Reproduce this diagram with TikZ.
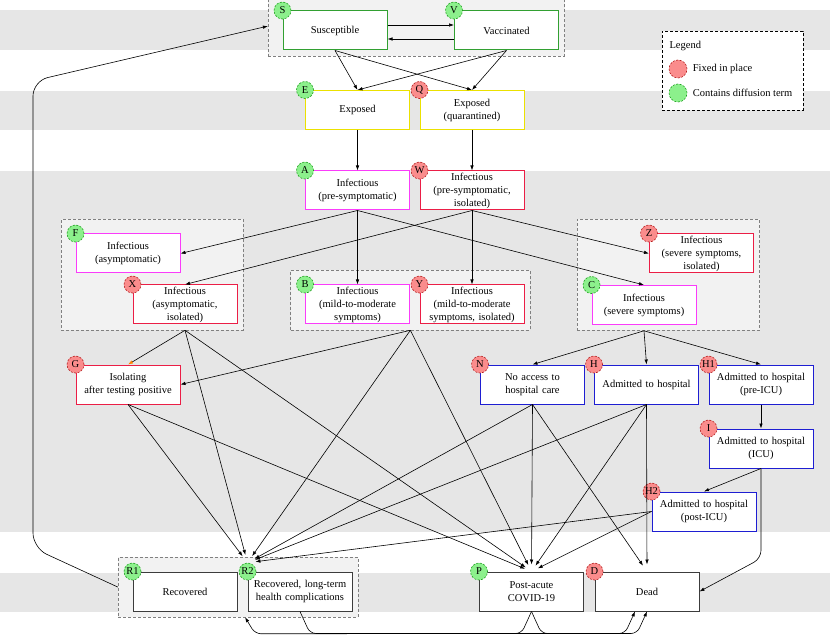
\documentclass[tikz,border=0pt]{standalone}
\usepackage{fontspec}
\setmainfont{Liberation Serif}
\definecolor{bandgray}{RGB}{230,230,230}
\definecolor{groupgray}{RGB}{242,242,242}
\definecolor{susgreen}{RGB}{50,160,50}
\definecolor{expyellow}{RGB}{235,225,0}
\definecolor{infmagenta}{RGB}{250,60,250}
\definecolor{isored}{RGB}{235,30,70}
\definecolor{hospblue}{RGB}{30,30,210}
\definecolor{outgray}{RGB}{60,60,60}
\definecolor{fixedfill}{RGB}{250,140,140}
\definecolor{fixedline}{RGB}{180,30,30}
\definecolor{difffill}{RGB}{140,240,140}
\definecolor{diffline}{RGB}{30,160,30}
\usetikzlibrary{shapes,arrows.meta,positioning,fit,backgrounds,calc}
\tikzstyle{stage} = [rectangle, draw, fill=white, line width=1pt,
    text width=100pt, inner xsep=2pt, inner ysep=1pt, align=center, minimum height=39pt]
\tikzstyle{fixed} = [circle, draw=fixedline, fill=fixedfill, line width=0.6pt, dash pattern=on 2pt off 1.5pt,
    minimum size=17pt, inner sep=0pt]
\tikzstyle{diffusing} = [circle, draw=diffline, fill=difffill, line width=0.6pt, dash pattern=on 2pt off 1.5pt,
    minimum size=17pt, inner sep=0pt]
\tikzstyle{group} = [draw=gray, line width=0.6pt, dash pattern=on 3pt off 2pt, fill=groupgray, inner sep=5.5pt]
\tikzstyle{line} = [draw, line width=0.6pt, -{Latex[length=5pt,width=3.5pt]}]

\begin{document}
\begin{tikzpicture}[x=1pt, y=1pt, font=\fontsize{10.5}{13}\selectfont]
  \useasboundingbox (0,0) rectangle (830,-636);
  \node [stage, draw=susgreen] (susceptible) at (335,-30.5) {Susceptible};
  \node [stage, draw=susgreen, right of=susceptible, node distance=171.5pt] (vaccinated) {Vaccinated};
  \node [stage, draw=expyellow] (exposed) at (357.5,-110) {Exposed};
  \node [stage, draw=expyellow, right of=exposed, node distance=114.5pt] (exposed_q) {Exposed\\(quarantined)};
  \node [stage, draw=infmagenta, below of=exposed, node distance=80.5pt] (presymp) {Infectious\\(pre-symptomatic)};
  \node [stage, draw=isored, right of=presymp, node distance=114.5pt] (presymp_iso) {Infectious\\(pre-symptomatic,\\isolated)};
  \node [stage, draw=infmagenta, below of=presymp, node distance=114pt] (mild) {Infectious\\(mild-to-moderate\\symptoms)};
  \node [stage, draw=isored, right of=mild, node distance=114.5pt] (mild_iso) {Infectious\\(mild-to-moderate\\symptoms, isolated)};
  \node [stage, draw=infmagenta] (asymp) at (128,-253.5) {Infectious\\(asymptomatic)};
  \node [stage, draw=isored] (asymp_iso) at (185,-304.5) {Infectious\\(asymptomatic,\\isolated)};
  \node [stage, draw=isored, below of=asymp, node distance=131pt] (isolating) {Isolating\\after testing positive};
  \node [stage, draw=isored] (severe_iso) at (701.5,-253.5) {Infectious\\(severe symptoms,\\isolated)};
  \node [stage, draw=infmagenta] (severe) at (644,-305) {Infectious\\(severe symptoms)};
  \node [stage, draw=hospblue] (hospital) at (646.5,-384.5) {Admitted to hospital};
  \node [stage, draw=hospblue, left of=hospital, node distance=114pt] (no_access) {No access to\\hospital care};
  \node [stage, draw=hospblue, right of=hospital, node distance=114.5pt] (pre_icu) {Admitted to hospital\\(pre-ICU)};
  \node [stage, draw=hospblue, below of=pre_icu, node distance=64pt] (icu) {Admitted to hospital\\(ICU)};
  \node [stage, draw=hospblue] (post_icu) at (704,-511.5) {Admitted to hospital\\(post-ICU)};
  \node [stage, draw=outgray] (recovered) at (185,-591.5) {Recovered};
  \node [stage, draw=outgray, right of=recovered, node distance=115pt] (long_term) {Recovered, long-term\\health complications};
  \node [stage, draw=outgray] (post_acute) at (531.5,-591.5) {Post-acute\\COVID-19};
  \node [stage, draw=outgray, right of=post_acute, node distance=115.5pt] (dead) {Dead};

  \node [diffusing] (S_b) at (susceptible.north west) {S};
  \node [diffusing] (V_b) at (vaccinated.north west) {V};
  \node [diffusing] (E_b) at (exposed.north west) {E};
  \node [fixed] (Q_b) at (exposed_q.north west) {Q};
  \node [diffusing] (A_b) at (presymp.north west) {A};
  \node [fixed] (W_b) at (presymp_iso.north west) {W};
  \node [diffusing] (F_b) at (asymp.north west) {F};
  \node [fixed] (X_b) at (asymp_iso.north west) {X};
  \node [diffusing] (B_b) at (mild.north west) {B};
  \node [fixed] (Y_b) at (mild_iso.north west) {Y};
  \node [fixed] (Z_b) at (severe_iso.north west) {Z};
  \node [diffusing] (C_b) at (severe.north west) {C};
  \node [fixed] (G_b) at (isolating.north west) {G};
  \node [fixed] (N_b) at (no_access.north west) {N};
  \node [fixed] (H_b) at (hospital.north west) {H};
  \node [fixed] (H1_b) at (pre_icu.north west) {H1};
  \node [fixed] (I_b) at (icu.north west) {I};
  \node [fixed] (H2_b) at (post_icu.north west) {H2};
  \node [diffusing] (R1_b) at (recovered.north west) {R1};
  \node [diffusing] (R2_b) at (long_term.north west) {R2};
  \node [diffusing] (P_b) at (post_acute.north west) {P};
  \node [fixed] (D_b) at (dead.north west) {D};

  \begin{scope}[on background layer]
    \fill [bandgray] (0,-10) rectangle (830,-50);
    \fill [bandgray] (0,-91) rectangle (830,-130);
    \fill [bandgray] (0,-171) rectangle (830,-532);
    \fill [bandgray] (0,-573) rectangle (830,-612);
    \node [group, fit=(S_b) (vaccinated)] (sus_group) {};
    \node [group, fit=(F_b) (asymp_iso)] (asymp_group) {};
    \node [group, fit=(B_b) (mild_iso)] (mild_group) {};
    \node [group, fit=(Z_b) (severe_iso) (C_b) (severe)] (severe_group) {};
    \node [group, fit=(R1_b) (long_term)] (rec_group) {};
  \end{scope}

  \node [draw, line width=0.6pt, dash pattern=on 3pt off 2pt, fill=white, minimum width=141pt, minimum height=79pt] (legend) at (732.5,-70.5) {};
  \node [anchor=west] (legend_title) at (666,-46) {Legend};
  \node [fixed, minimum size=18pt] (legend_fixed) at (678,-69) {};
  \node [diffusing, minimum size=18pt] (legend_diff) at (678,-93) {};
  \node [right=2pt of legend_fixed] (legend_fixed_text) {Fixed in place};
  \node [right=2pt of legend_diff] (legend_diff_text) {Contains diffusion term};

  \coordinate (asymp_out) at (asymp_iso.south |- asymp_group.south);
  \coordinate (severe_out) at (severe.south |- severe_group.south);
  \coordinate (rec_in) at (R2_b.north);
  \coordinate (turn_dead) at ($(icu.south)+(0,-90)$);
  \coordinate (loop_low) at (33,-548);
  \coordinate (loop_high) at (33,-81);

  \path [line] (susceptible.south) -- (exposed.north);
  \path [line] (susceptible.south) -- (exposed_q.north);
  \path [line] (vaccinated.south) -- (exposed.north);
  \path [line] (vaccinated.south) -- (exposed_q.north);
  \path [line] ([yshift=5.5pt]susceptible.east) -- ([yshift=5.5pt]vaccinated.west);
  \path [line] ([yshift=-8.5pt]vaccinated.west) -- ([yshift=-8.5pt]susceptible.east);
  \path [line] (exposed) -- (presymp);
  \path [line] (exposed_q) -- (presymp_iso);
  \path [line] (presymp.south) -- (asymp.east);
  \path [line] (presymp.south) -- (mild.north);
  \path [line] (presymp.south) -- (severe.north);
  \path [line] (presymp_iso.south) -- (asymp_iso.north);
  \path [line] (presymp_iso.south) -- (mild_iso.north);
  \path [line] (presymp_iso.south) -- (severe_iso.west);
  \path [draw, line width=0.6pt, -{Latex[length=5pt,width=3.5pt,color=orange]}] (asymp_out) -- (isolating.north);
  \path [line, shorten >=8pt] (asymp_out) -- (rec_in);
  \path [line, shorten >=7pt] (asymp_out) -- (post_acute.north);
  \path [line] (mild_group.south) -- (isolating.east);
  \path [line, shorten >=8pt] (mild_group.south) -- (rec_in);
  \path [line, shorten >=7pt] (mild_group.south) -- (post_acute.north);
  \path [line, shorten >=8pt] (isolating.south) -- (rec_in);
  \path [line, shorten >=7pt] (isolating.south) -- (post_acute.north);
  \path [line] (severe_out) -- (no_access.north);
  \path [line] (severe_out) -- (hospital.north);
  \path [line] (severe_out) -- (pre_icu.north);
  \path [line, shorten >=8pt] (no_access.south) -- (rec_in);
  \path [line, shorten >=7pt] (no_access.south) -- (post_acute.north);
  \path [line, shorten >=7pt] (no_access.south) -- (dead.north);
  \path [line, shorten >=8pt] (hospital.south) -- (rec_in);
  \path [line, shorten >=7pt] (hospital.south) -- (post_acute.north);
  \path [line, shorten >=7pt] (hospital.south) -- (dead.north);
  \path [line] (pre_icu) -- (icu);
  \path [line] (icu.south) -- (post_icu.north);
  \path [line, rounded corners=8pt] (icu.south) -- (turn_dead) -- (dead.east);
  \path [line, shorten >=8pt] (post_icu.west) -- (rec_in);
  \path [line, shorten >=7pt] (post_icu.west) -- (post_acute.north);
  \path [line, rounded corners=6pt] (post_acute.south) -- ++(-10,-22) -- ($(rec_group.south)+(17,-16.5)$) -- ($(rec_group.south)+(7,0)$);
  \path [line, rounded corners=6pt] (post_acute.south) -- ++(10,-22) -- ($(dead.south)+(-10,-22)$) -- (dead.south);
  \path [line, rounded corners=6pt] (long_term.south) -- ++(10,-22) -- ($(dead.south)+(-22,-22)$) -- ($(dead.south)+(-12,0)$);
  \path [line, rounded corners=15pt] (rec_group.west) -- (loop_low) -- (loop_high) -- (sus_group.west);
\end{tikzpicture}
\end{document}
